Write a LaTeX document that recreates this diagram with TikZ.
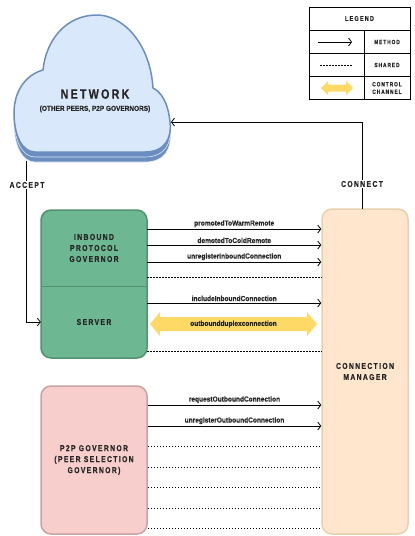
\documentclass[tikz,border=0pt]{standalone}
\usepackage{fontspec}
\setmainfont{Liberation Sans}
\newfontfamily\boxfont{Liberation Sans Bold}[FakeStretch=0.8, LetterSpace=16, FakeBold=0.4]
\newfontfamily\callfont{Liberation Sans Bold}[FakeStretch=0.9, FakeBold=0.3]
\usetikzlibrary{arrows.meta, positioning}
\definecolor{cloudfill}{HTML}{DAE8FC}
\definecolor{clouddraw}{HTML}{6C8EBF}
\definecolor{greenfill}{HTML}{6DB793}
\definecolor{greendraw}{HTML}{52936F}
\definecolor{pinkfill}{HTML}{F8CECC}
\definecolor{pinkdraw}{HTML}{C9A2A2}
\definecolor{cmfill}{HTML}{FFE6CC}
\definecolor{cmdraw}{HTML}{E8D0AE}
\definecolor{ctrl}{HTML}{FFD966}
\tikzset{
  cloudpic/.pic={\path[pic actions] (35,152) -- (145,152)
    .. controls (165,152) and (172,138) .. (170,122)
    .. controls (168,102) and (161,92) .. (153,88)
    .. controls (150,42) and (122,15) .. (97,15)
    .. controls (66,15) and (46,40) .. (43,70)
    .. controls (25,75) and (14,92) .. (14,113)
    .. controls (14,135) and (22,152) .. (35,152) -- cycle;}
}
\begin{document}
\begin{tikzpicture}[x=1pt, y=-1pt, >={Straight Barb[length=3pt, width=8pt]},
  box/.style={rounded corners=10pt, line width=1.5pt},
  boxtext/.style={font=\boxfont\fontsize{8.5}{11}\selectfont, align=center, text=black!85},
  call/.style={font=\callfont\fontsize{7.3}{8}\selectfont, inner sep=1.5pt, text=black!85},
  small/.style={font=\boxfont\fontsize{6}{7.5}\selectfont, align=center, text=black!85},
  method/.style={->, line width=0.8pt},
  shared/.style={line width=0.8pt, dash pattern=on 1.5pt off 1.5pt}]
\useasboundingbox (0,0) rectangle (415,536);
%
% network cloud
\pic[fill=clouddraw, draw=cloudfill, line width=0.6pt] at (0,10) {cloudpic};
\pic[fill=clouddraw, draw=cloudfill, line width=0.6pt] at (0,5) {cloudpic};
\pic[fill=cloudfill, draw=clouddraw, line width=1.5pt] at (0,0) {cloudpic};
\node[font=\boxfont\fontsize{13.5}{16}\selectfont, text=black!85] (network) at (95,94) {NETWORK};
\node[font=\callfont\fontsize{7.2}{8}\selectfont, text=black!85] (peers) at (95,109) {(OTHER PEERS, P2P GOVERNORS)};
\coordinate (cloud east) at (171,122);
\coordinate (cloud south) at (26,161);
%
% components
\node[box, draw=greendraw, fill=greenfill, minimum width=106pt, minimum height=148pt] (green) at (94,284) {};
\node[boxtext, minimum width=106pt, minimum height=76pt] (ipg) at (94,248) {INBOUND\\PROTOCOL\\GOVERNOR};
\node[boxtext, minimum width=106pt, minimum height=72pt] (server) at (94,322) {SERVER};
\draw[greendraw, line width=0.6pt] (ipg.south west) -- (ipg.south east);
\node[box, boxtext, draw=pinkdraw, fill=pinkfill, minimum width=106pt, minimum height=148pt] (p2p) at (94,460) {P2P GOVERNOR\\(PEER SELECTION\\GOVERNOR)};
\node[box, boxtext, draw=cmdraw, fill=cmfill, minimum width=86pt, minimum height=325pt] (cm) at (365,371.5) {CONNECTION\\MANAGER};
\coordinate (cm top) at (362,209);
%
% connect / accept
\draw[->, line width=0.8pt] (cm top) |- (cloud east);
\node[boxtext, fill=white, inner sep=1pt] (connect) at (cm top |- 0,184) {CONNECT};
\draw[->, line width=0.8pt] (cloud south) |- (server.west);
\node[boxtext, fill=white, inner sep=1pt] (accept) at (27,185) {ACCEPT};
%
% inbound governor and server
\draw[method] (ipg.east |- 0,229) -- node[above, call] {promotedToWarmRemote} (cm.west |- 0,229);
\draw[method] (ipg.east |- 0,245) -- node[above, call] {demotedToColdRemote} (cm.west |- 0,245);
\draw[method] (ipg.east |- 0,262) -- node[above, call] {unregisterInboundConnection} (cm.west |- 0,262);
\draw[shared] (ipg.east |- 0,277) -- (cm.west |- 0,277);
\draw[method] (server.east |- 0,303) -- node[above, call] {includeInboundConnection} (cm.west |- 0,303);
\fill[ctrl] (150,324) -- (160,312) -- (160,317) -- (307,317) -- (307,312) -- (317,324)
  -- (307,336) -- (307,331) -- (160,331) -- (160,336) -- cycle;
\node[call] (duplex) at (233.5,324) {outboundduplexconnection};
\draw[shared] (server.east |- 0,351) -- (cm.west |- 0,351);
%
% peer selection governor
\draw[method] (p2p.east |- 0,405) -- node[above, call] {requestOutboundConnection} (cm.west |- 0,405);
\draw[method] (p2p.east |- 0,426) -- node[above, call] {unregisterOutboundConnection} (cm.west |- 0,426);
\foreach \y in {446,467,487,508,528}
  \draw[shared] (p2p.east |- 0,\y) -- (cm.west |- 0,\y);
%
% legend
\draw[line width=0.8pt] (309,7) rectangle (410,99);
\draw[line width=0.8pt] (309,30) -- (410,30) (309,53) -- (410,53) (309,76) -- (410,76) (364,30) -- (364,99);
\node[small, font=\boxfont\fontsize{7}{8}\selectfont] (legend) at (359.5,18.5) {LEGEND};
\draw[method] (318,42) -- (352,42);
\node[small] (lmethod) at (387,42) {METHOD};
\draw[shared, line width=0.6pt] (320,65) -- (352,65);
\node[small] (lshared) at (387,65) {SHARED};
\fill[ctrl] (321,88) -- (328,81) -- (328,84.5) -- (346,84.5) -- (346,81) -- (353,88)
  -- (346,95) -- (346,91.5) -- (328,91.5) -- (328,95) -- cycle;
\node[small, inner sep=0pt] (lctrl) at (387,88) {CONTROL\\CHANNEL};
\end{tikzpicture}
\end{document}
